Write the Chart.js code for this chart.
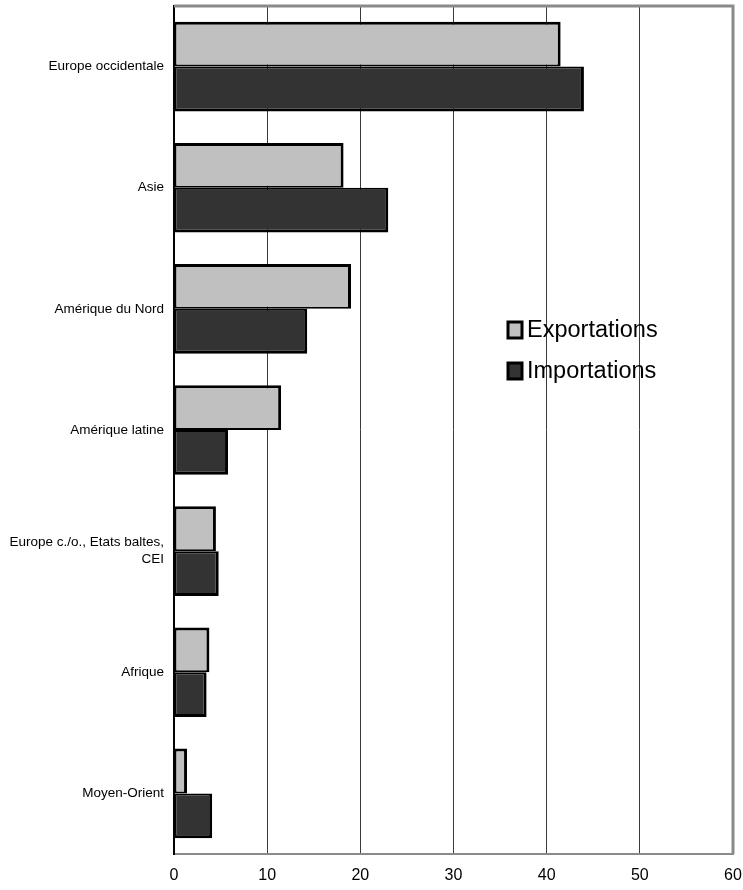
<!DOCTYPE html>
<html>
<head>
<meta charset="utf-8">
<script src="https://cdn.jsdelivr.net/npm/chart.js@4/dist/chart.umd.min.js"></script>
<style>
  html, body { margin: 0; padding: 0; background: #fff; }
  #wrap { width: 743px; height: 890px; }
</style>
</head>
<body>
<div id="wrap"><canvas id="chart"></canvas></div>
<script>
const regions = [
  "Europe occidentale",
  "Asie",
  "Amérique du Nord",
  "Amérique latine",
  ["Europe c./o., Etats baltes,", "CEI"],
  "Afrique",
  "Moyen-Orient",
];
const exportations = [41.5, 18.2, 19.0, 11.5, 4.5, 3.8, 1.4];
const importations = [44.0, 23.0, 14.3, 5.8, 4.8, 3.5, 4.1];
const xTicks = [0, 10, 20, 30, 40, 50, 60];

const font = "'Liberation Sans', Arial, sans-serif";

// cadre gris en haut et à droite de la zone de tracé
const frame = {
  id: "frame",
  afterDraw(chart) {
    const { ctx, chartArea: a } = chart;
    ctx.save();
    ctx.strokeStyle = "#8a8a8a";
    ctx.lineWidth = 3;
    ctx.beginPath();
    ctx.moveTo(a.left, a.top);
    ctx.lineTo(a.right, a.top);
    ctx.lineTo(a.right, a.bottom);
    ctx.stroke();
    ctx.restore();
  },
};

// légende dessinée dans la zone de tracé
const boxLegend = {
  id: "boxLegend",
  afterDraw(chart) {
    const { ctx } = chart;
    ctx.save();
    ctx.font = "23.5px " + font;
    ctx.textBaseline = "middle";
    chart.data.datasets.forEach((ds, i) => {
      const y = 330 + i * 41;
      ctx.fillStyle = ds.backgroundColor;
      ctx.fillRect(508, y - 8, 14, 16);
      ctx.strokeStyle = "#000";
      ctx.lineWidth = 3;
      ctx.strokeRect(508, y - 8, 14, 16);
      ctx.fillStyle = "#000";
      ctx.fillText(ds.label, 527, y + 1);
    });
    ctx.restore();
  },
};

new Chart(document.getElementById("chart"), {
  type: "bar",
  data: {
    labels: regions,
    datasets: [
      {
        label: "Exportations",
        data: exportations,
        backgroundColor: "#c0c0c0",
        borderColor: "#000",
        borderWidth: { top: 3, right: 3, bottom: 2, left: 2 },
        borderSkipped: false,
        categoryPercentage: 0.74,
        barPercentage: 1,
      },
      {
        label: "Importations",
        data: importations,
        backgroundColor: "#333333",
        borderColor: "#000",
        borderWidth: { top: 2, right: 3, bottom: 3, left: 2 },
        borderSkipped: false,
        categoryPercentage: 0.74,
        barPercentage: 1,
      },
    ],
  },
  options: {
    indexAxis: "y",
    responsive: true,
    maintainAspectRatio: false,
    animation: false,
    layout: { padding: { top: 6, right: 10, bottom: 0, left: 0 } },
    plugins: { legend: { display: false }, tooltip: { enabled: false } },
    scales: {
      x: {
        min: 0,
        max: 60,
        afterBuildTicks: (s) => { s.ticks = xTicks.map((v) => ({ value: v })); },
        afterFit: (s) => { s.height = 36; s.paddingLeft = 0; s.paddingRight = 0; },
        grid: { color: "#3a3a3a", lineWidth: 1, drawTicks: false },
        border: { display: true, color: "#8a8a8a", width: 2 },
        ticks: { color: "#000", padding: 12, font: { family: font, size: 16 } },
      },
      y: {
        afterFit: (s) => { s.width = 174; s.paddingTop = 0; s.paddingBottom = 0; },
        grid: { display: false, drawTicks: false },
        border: { display: true, color: "#000", width: 2 },
        ticks: { color: "#000", padding: 10, font: { family: font, size: 13.5, lineHeight: 1.25 } },
      },
    },
  },
  plugins: [frame, boxLegend],
});
</script>
</body>
</html>
